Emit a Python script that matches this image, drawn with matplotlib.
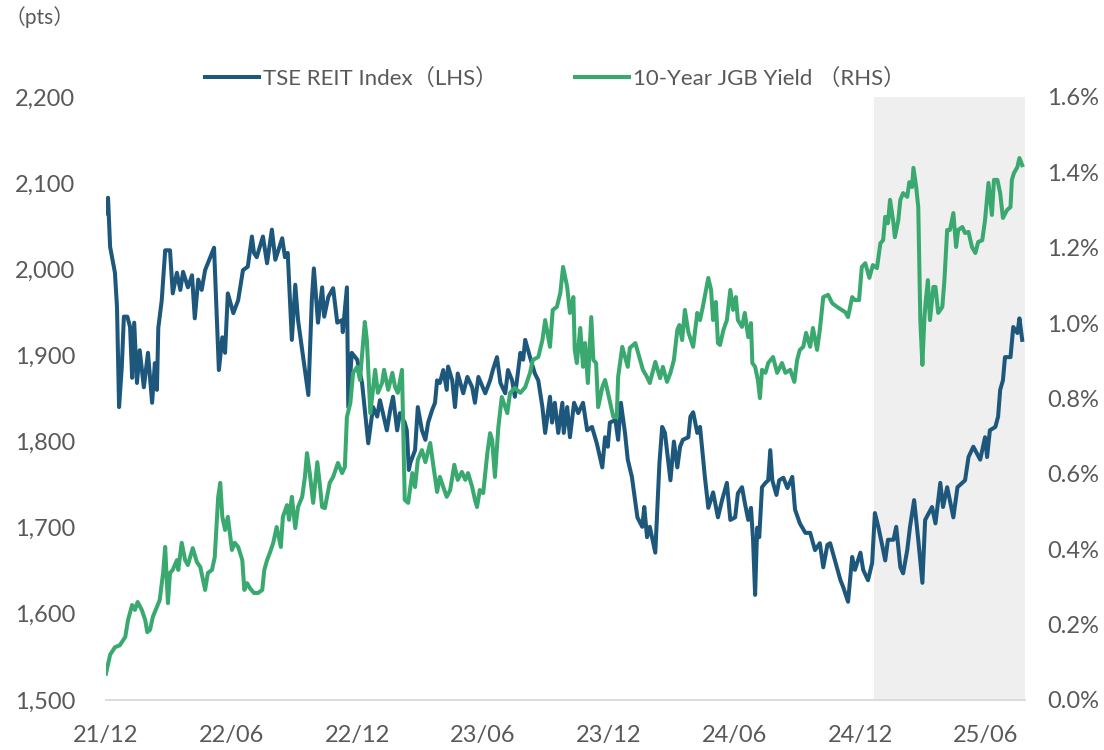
import pandas as pd
import matplotlib
matplotlib.use("Agg")
import matplotlib.pyplot as plt
from matplotlib.ticker import FuncFormatter, MultipleLocator

plt.rcParams['font.family'] = ['Lato', 'Noto Sans CJK JP', 'DejaVu Sans']

# series start date; observations are given as days since this date
start = pd.Timestamp("2021-12-01")

# TSE REIT Index (pts)
reit_days = [
    0, 3, 6, 13, 16, 19, 23, 26, 31, 35,
    38, 41, 45, 49, 55, 61, 67, 71, 74, 76,
    81, 86, 93, 97, 103, 108, 112, 119, 125, 129,
    134, 139, 144, 148, 157, 164, 169, 173, 177, 185,
    192, 199, 206, 212, 215, 219, 228, 234, 241, 246,
    256, 260, 264, 270, 275, 279, 285, 294, 299, 302,
    308, 314, 317, 323, 330, 336, 343, 344, 350, 352,
    357, 365, 372, 381, 388, 394, 398, 408, 413, 417,
    423, 427, 434, 437, 440, 442, 449, 453, 459, 464,
    468, 474, 478, 481, 485, 490, 495, 497, 503, 507,
    511, 519, 525, 532, 536, 541, 551, 558, 562, 568,
    573, 580, 584, 590, 594, 602, 606, 609, 616, 623,
    628, 634, 638, 645, 648, 652, 657, 663, 665, 670,
    674, 680, 686, 693, 699, 706, 713, 721, 725, 729,
    732, 740, 744, 748, 754, 758, 764, 772, 779, 782,
    786, 790, 798, 801, 804, 808, 812, 820, 825, 830,
    834, 838, 846, 849, 853, 859, 863, 870, 875, 882,
    889, 895, 902, 907, 914, 918, 924, 928, 933, 937,
    940, 943, 946, 949, 953, 958, 962, 965, 968, 974,
    978, 984, 990, 997, 1001, 1008, 1016, 1023, 1030, 1037,
    1042, 1048, 1052, 1059, 1067, 1071, 1078, 1084, 1088, 1096,
    1100, 1107, 1113, 1117, 1122, 1128, 1132, 1136, 1144, 1148,
    1154, 1158, 1164, 1168, 1174, 1180, 1186, 1190, 1200, 1205,
    1212, 1216, 1222, 1231, 1237, 1244, 1248, 1253, 1260, 1270,
    1277, 1280, 1284, 1292, 1296, 1299, 1303, 1306, 1314, 1318,
    1324, 1327, 1331,
]
reit_vals = [
    2065, 2083, 2026, 1996, 1956, 1840, 1887, 1945, 1945, 1933,
    1874, 1938, 1868, 1906, 1863, 1903, 1845, 1891, 1860, 1932,
    1964, 2022, 2022, 1972, 1996, 1976, 1997, 1979, 1993, 1943,
    1988, 1976, 1999, 2007, 2025, 1883, 1921, 1903, 1972, 1949,
    1964, 1999, 2003, 2038, 2019, 2014, 2038, 2007, 2046, 2011,
    2036, 2014, 2019, 1918, 1982, 1941, 1906, 1854, 1964, 2001,
    1938, 1979, 1945, 1968, 1978, 1938, 1941, 1927, 1979, 1840,
    1903, 1895, 1868, 1798, 1840, 1829, 1848, 1813, 1837, 1852,
    1813, 1833, 1822, 1813, 1767, 1775, 1790, 1840, 1813, 1802,
    1822, 1837, 1845, 1871, 1868, 1883, 1860, 1887, 1871, 1840,
    1879, 1856, 1875, 1863, 1845, 1875, 1856, 1871, 1883, 1898,
    1868, 1856, 1883, 1871, 1852, 1903, 1895, 1918, 1898, 1879,
    1871, 1840, 1810, 1852, 1822, 1845, 1810, 1845, 1810, 1840,
    1805, 1845, 1833, 1845, 1813, 1817, 1798, 1770, 1805, 1794,
    1822, 1825, 1802, 1845, 1810, 1779, 1759, 1712, 1701, 1724,
    1689, 1701, 1671, 1724, 1775, 1817, 1810, 1755, 1800, 1770,
    1794, 1802, 1805, 1829, 1834, 1810, 1817, 1759, 1723, 1741,
    1712, 1732, 1752, 1709, 1712, 1740, 1747, 1729, 1709, 1723,
    1686, 1622, 1700, 1689, 1747, 1752, 1755, 1790, 1755, 1738,
    1755, 1758, 1746, 1759, 1721, 1705, 1694, 1694, 1674, 1682,
    1654, 1680, 1682, 1662, 1639, 1631, 1614, 1666, 1651, 1671,
    1651, 1639, 1659, 1717, 1701, 1678, 1662, 1686, 1686, 1701,
    1654, 1647, 1674, 1701, 1732, 1686, 1636, 1709, 1724, 1705,
    1752, 1724, 1747, 1712, 1747, 1752, 1755, 1782, 1794, 1779,
    1805, 1782, 1813, 1817, 1829, 1860, 1871, 1898, 1898, 1933,
    1926, 1943, 1918,
]

# 10-Year JGB yield (%)
jgb_days = [
    0, 6, 13, 20, 28, 32, 38, 42, 46, 52,
    57, 60, 64, 68, 74, 78, 83, 86, 90, 93,
    97, 103, 105, 110, 115, 119, 126, 132, 137, 141,
    144, 148, 154, 158, 163, 166, 169, 173, 177, 183,
    187, 192, 198, 201, 205, 209, 215, 221, 227, 230,
    234, 238, 243, 248, 254, 257, 263, 266, 270, 275,
    279, 285, 289, 292, 296, 301, 307, 311, 314, 318,
    325, 330, 337, 343, 347, 350, 355, 359, 365, 369,
    376, 379, 384, 391, 395, 401, 404, 410, 416, 420,
    424, 430, 434, 439, 445, 449, 453, 459, 464, 471,
    475, 481, 485, 490, 495, 500, 506, 511, 517, 522,
    526, 532, 536, 539, 543, 548, 554, 558, 561, 565,
    570, 575, 583, 587, 594, 602, 609, 616, 620, 628,
    634, 638, 645, 649, 655, 660, 664, 670, 674, 679,
    681, 684, 689, 693, 696, 700, 705, 708, 712, 715,
    721, 725, 729, 737, 742, 744, 750, 754, 758, 761,
    769, 776, 780, 786, 790, 798, 805, 809, 815, 820,
    825, 830, 833, 837, 841, 846, 853, 859, 863, 867,
    875, 879, 882, 886, 889, 892, 897, 902, 907, 911,
    915, 918, 924, 928, 933, 937, 939, 943, 947, 950,
    953, 958, 962, 969, 975, 982, 987, 994, 1000, 1004,
    1008, 1013, 1017, 1023, 1027, 1033, 1037, 1042, 1049, 1055,
    1062, 1069, 1074, 1078, 1084, 1088, 1094, 1098, 1103, 1109,
    1114, 1120, 1125, 1129, 1132, 1136, 1139, 1144, 1146, 1151,
    1154, 1158, 1164, 1167, 1171, 1173, 1177, 1180, 1183, 1186,
    1189, 1191, 1194, 1197, 1202, 1205, 1209, 1215, 1218, 1222,
    1226, 1231, 1235, 1238, 1244, 1248, 1253, 1258, 1263, 1267,
    1273, 1277, 1282, 1287, 1290, 1295, 1299, 1303, 1309, 1314,
    1316, 1319, 1324, 1327, 1331,
]
jgb_vals = [
    0.07, 0.12, 0.14, 0.145, 0.167, 0.212, 0.252, 0.239, 0.26, 0.239,
    0.212, 0.18, 0.186, 0.22, 0.247, 0.265, 0.337, 0.406, 0.257, 0.337,
    0.345, 0.371, 0.345, 0.417, 0.371, 0.358, 0.403, 0.366, 0.353, 0.318,
    0.292, 0.337, 0.345, 0.379, 0.539, 0.576, 0.486, 0.451, 0.486, 0.398,
    0.417, 0.406, 0.371, 0.292, 0.31, 0.297, 0.284, 0.284, 0.292, 0.345,
    0.371, 0.39, 0.417, 0.459, 0.406, 0.486, 0.517, 0.478, 0.539, 0.456,
    0.512, 0.539, 0.592, 0.655, 0.602, 0.523, 0.631, 0.565, 0.512, 0.509,
    0.576, 0.592, 0.629, 0.602, 0.618, 0.751, 0.788, 0.868, 0.884, 0.849,
    1.003, 0.955, 0.761, 0.876, 0.815, 0.841, 0.876, 0.823, 0.868, 0.83,
    0.815, 0.876, 0.531, 0.523, 0.602, 0.565, 0.637, 0.663, 0.631, 0.682,
    0.629, 0.552, 0.592, 0.565, 0.539, 0.557, 0.624, 0.584, 0.605, 0.584,
    0.602, 0.565, 0.531, 0.512, 0.557, 0.549, 0.655, 0.708, 0.69, 0.592,
    0.724, 0.804, 0.761, 0.815, 0.828, 0.815, 0.83, 0.868, 0.902, 0.91,
    0.955, 1.008, 0.937, 1.035, 1.043, 1.08, 1.149, 1.096, 1.027, 1.069,
    0.929, 0.894, 0.987, 0.884, 0.947, 0.841, 1.016, 0.902, 0.894, 0.777,
    0.83, 0.849, 0.817, 0.751, 0.751, 0.857, 0.937, 0.91, 0.884, 0.934,
    0.947, 0.902, 0.876, 0.857, 0.841, 0.897, 0.854, 0.884, 0.844, 0.868,
    0.902, 0.982, 0.995, 0.955, 1.035, 0.976, 0.937, 1.027, 1.008, 1.043,
    1.12, 1.088, 1.008, 1.056, 0.947, 0.942, 0.982, 1.008, 1.088, 1.035,
    1.069, 1.008, 0.99, 1.027, 0.963, 1.0, 0.894, 0.884, 0.849, 0.801,
    0.876, 0.868, 0.894, 0.91, 0.868, 0.894, 0.868, 0.876, 0.844, 0.902,
    0.929, 0.937, 0.974, 0.937, 0.987, 0.929, 0.982, 1.069, 1.075, 1.053,
    1.043, 1.035, 1.029, 1.016, 1.069, 1.061, 1.061, 1.149, 1.159, 1.12,
    1.154, 1.146, 1.212, 1.22, 1.282, 1.265, 1.327, 1.265, 1.228, 1.273,
    1.327, 1.345, 1.335, 1.374, 1.361, 1.412, 1.361, 1.308, 1.008, 0.889,
    1.016, 1.061, 1.114, 1.008, 1.096, 1.096, 1.027, 1.043, 1.114, 1.247,
    1.247, 1.292, 1.202, 1.247, 1.255, 1.239, 1.242, 1.202, 1.186, 1.215,
    1.22, 1.273, 1.372, 1.287, 1.38, 1.38, 1.345, 1.279, 1.3, 1.308,
    1.38, 1.398, 1.414, 1.438, 1.419,
]

tick_dates = ["2021-12-01", "2022-06-01", "2022-12-01", "2023-06-01",
              "2023-12-01", "2024-06-01", "2024-12-01", "2025-06-01"]
tick_labels = ["21/12", "22/06", "22/12", "23/06", "23/12", "24/06", "24/12", "25/06"]
shade_from = "2024-12-20"
x_end = "2025-07-28"

reit_x = start + pd.to_timedelta(reit_days, unit="D")
jgb_x = start + pd.to_timedelta(jgb_days, unit="D")

BLUE = "#1d587c"
GREEN = "#3aa96f"
GREY_TXT = "#595959"

fig = plt.figure(figsize=(11.04, 7.5), dpi=100)
ax = fig.add_axes([0.096, 0.0667, 0.8324, 0.804])
ax2 = ax.twinx()

ax.axvspan(pd.Timestamp(shade_from), pd.Timestamp(x_end), color="#efefef", lw=0, zorder=0)
l1, = ax.plot(reit_x, reit_vals, color=BLUE, lw=2.9, solid_joinstyle="round", zorder=3)
l2, = ax2.plot(jgb_x, jgb_vals, color=GREEN, lw=2.9, solid_joinstyle="round", zorder=3)

ax.set_xlim(start, pd.Timestamp(x_end))
ax.set_ylim(1500, 2200)
ax2.set_ylim(0, 1.6)
ax.yaxis.set_major_locator(MultipleLocator(100))
ax2.yaxis.set_major_locator(MultipleLocator(0.2))
ax.yaxis.set_major_formatter(FuncFormatter(lambda v, p: f"{v:,.0f}"))
ax2.yaxis.set_major_formatter(FuncFormatter(lambda v, p: f"{v:.1f}%"))
ax.set_xticks(pd.to_datetime(tick_dates))
ax.set_xticklabels(tick_labels)

for a in (ax, ax2):
    for s in a.spines.values():
        s.set_visible(False)
    a.tick_params(length=0, labelsize=17, labelcolor=GREY_TXT)
ax.spines["bottom"].set_visible(True)
ax.spines["bottom"].set_color("#d9d9d9")
ax.spines["bottom"].set_linewidth(1.3)
ax.tick_params(axis="x", pad=18)
ax.tick_params(axis="y", pad=22)
ax2.tick_params(axis="y", pad=16)

fig.text(0.068, 0.977, "（pts）", ha="right", va="center", fontsize=15, color=GREY_TXT)

fig.legend([l1, l2], ["TSE REIT Index（LHS）", "10-Year JGB Yield （RHS）"],
           loc="center", bbox_to_anchor=(0.503, 0.896), ncol=2, frameon=False,
           fontsize=16, handlelength=2.4, handletextpad=0.2, columnspacing=3.5,
           labelcolor=GREY_TXT)

fig.savefig("out.png", dpi=100)
